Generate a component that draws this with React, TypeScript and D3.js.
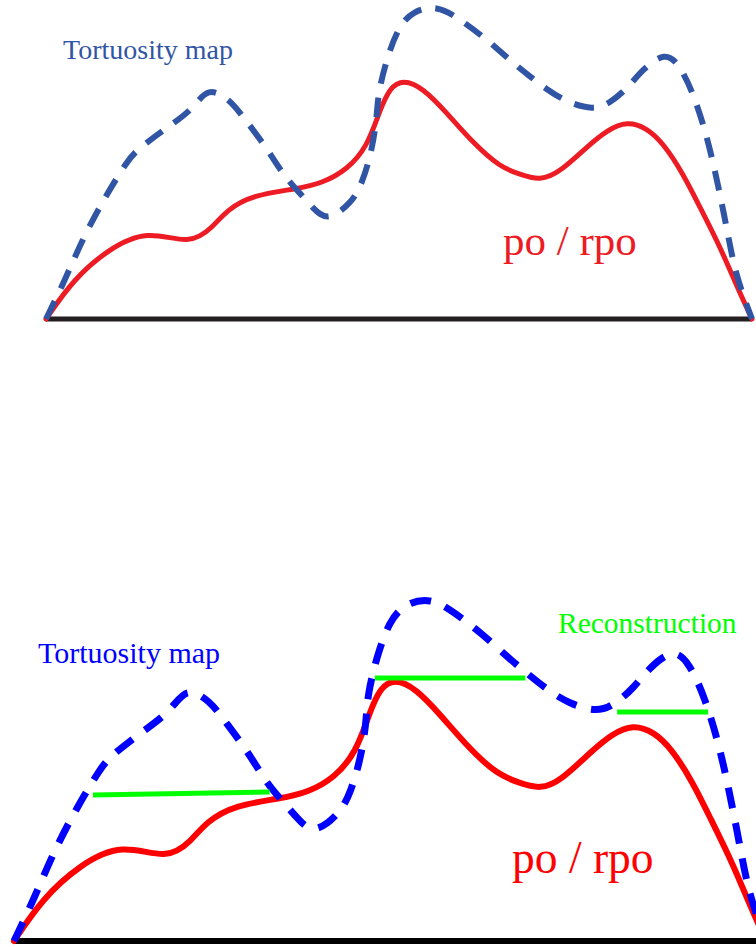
import React from "react";
import * as d3 from "d3";

// Curves in normalized units (x: 0..100 along the baseline, y: height above it)
const poX = [0, 3.82, 8.64, 14.31, 20.4, 23.65, 25.6, 29.3, 35.55, 39.2, 42.6, 45.5, 47.3, 48.7, 50.6, 53.4, 56.8, 60.5, 64.3, 67.1, 70.0, 72.8, 76.6, 79.5, 82.3, 85.1, 87.4, 90.2, 92.6, 95.5, 97.9, 100];
const poY = [0, 16.25, 28.75, 37.3, 30.8, 38.3, 45.4, 51.7, 54.2, 56.7, 62.1, 71.7, 87.1, 96.4, 99.8, 96.25, 85.8, 73.3, 63.3, 60.3, 57.6, 61.25, 71.7, 78.75, 82.4, 79.6, 73.3, 60.8, 46.7, 30.0, 13.3, 0];

const tortX = [0, 2.7, 5.24, 8.36, 11.6, 12.9, 16.6, 20.8, 22.9, 26.1, 27.9, 31.0, 33.6, 35.55, 37.8, 39.8, 43.3, 44.8, 46.2, 46.9, 47.0, 48.2, 49.9, 52.0, 55.4, 58.2, 62.2, 66.0, 68.3, 71.0, 73.8, 77.5, 79.9, 82.4, 84.4, 87.7, 89.8, 91.9, 93.8, 95.2, 96.5, 97.7, 100];
const tortY = [0, 16.25, 33.75, 50.8, 66.25, 70.4, 78.75, 87.1, 97.0, 91.25, 84.2, 72.5, 60, 53.75, 46.25, 40.5, 48.3, 56.7, 70.4, 85, 93.3, 107.9, 121.7, 128.5, 130.5, 125.8, 117.1, 107.1, 101.7, 95.4, 90.4, 87.0, 90, 96.25, 103.75, 111.5, 105.8, 92.5, 74.2, 55.8, 36.7, 17.9, 0];

// Reconstruction segments: start and end points
const reconX0 = [10.5, 48.0, 80.2];
const reconY0 = [55.6, 100.1, 87.1];
const reconX1 = [34.0, 68.0, 92.3];
const reconY1 = [56.7, 100.1, 87.1];

const labelTort = "Tortuosity map";
const labelPo = "po / rpo";
const labelRecon = "Reconstruction";

type Pt = [number, number];
const po: Pt[] = poX.map((x, i) => [x, poY[i]]);
const tort: Pt[] = tortX.map((x, i) => [x, tortY[i]]);

function Panel(props: {
  x0: number; x1: number; base: number; yPerUnit: number;
  red: string; blue: string; redW: number; blueW: number; baseW: number; baseColor: string;
  dash: string; showRecon: boolean;
}) {
  const { x0, x1, base, yPerUnit } = props;
  const xs = d3.scaleLinear().domain([0, 100]).range([x0, x1]);
  const ys = d3.scaleLinear().domain([0, 100]).range([base, base - 100 * yPerUnit]);
  const line = d3.line<Pt>().x(d => xs(d[0])).y(d => ys(d[1])).curve(d3.curveBasis);
  return (
    <g>
      <line x1={xs(0)} x2={xs(100)} y1={base} y2={base} stroke={props.baseColor} strokeWidth={props.baseW} />
      <path d={line(po) || ""} fill="none" stroke={props.red} strokeWidth={props.redW} strokeLinecap="round" />
      <path d={line(tort) || ""} fill="none" stroke={props.blue} strokeWidth={props.blueW} strokeDasharray={props.dash} />
      {props.showRecon && reconX0.map((rx, i) => (
        <line key={i} x1={xs(rx)} y1={ys(reconY0[i])} x2={xs(reconX1[i])} y2={ys(reconY1[i])} stroke="#00ff00" strokeWidth={5} />
      ))}
    </g>
  );
}

export default function App() {
  return (
    <svg width={756} height={947} style={{ position: "absolute", left: 0, top: 0, background: "#fff" }}
      fontFamily="'Liberation Serif', 'Times New Roman', serif">
      <rect width={756} height={947} fill="#fff" />
      <Panel x0={46} x1={752} base={319} yPerUnit={2.4} red="#ed1c24" blue="#3155a5" redW={5} blueW={6}
        baseW={5} baseColor="#231f20" dash="20,14" showRecon={false} />
      <text x={63} y={59} fontSize={28} fill="#3155a5">{labelTort}</text>
      <text x={503} y={255} fontSize={43} fill="#ed1c24">{labelPo}</text>

      <Panel x0={14} x1={766} base={941} yPerUnit={2.628} red="#ff0000" blue="#0000ff" redW={6} blueW={7}
        baseW={6} baseColor="#000" dash="21,15" showRecon={true} />
      <text x={38} y={663} fontSize={30} fill="#0000ff">{labelTort}</text>
      <text x={558} y={633} fontSize={29.5} fill="#00ff00">{labelRecon}</text>
      <text x={512} y={873} fontSize={45.5} fill="#ff0000">{labelPo}</text>
    </svg>
  );
}
